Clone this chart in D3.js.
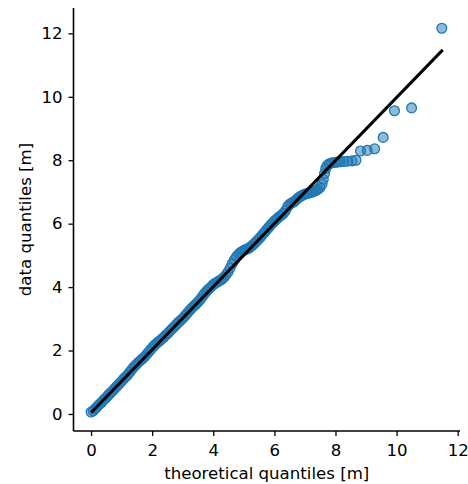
<!DOCTYPE html>
<html>
<head>
<meta charset="utf-8">
<script src="https://cdn.jsdelivr.net/npm/d3@7"></script>
<style>
  html, body { margin: 0; padding: 0; background: #fff; }
  svg { display: block; }
  text { font-family: "DejaVu Sans", sans-serif; }
</style>
</head>
<body>
<svg id="chart" width="468" height="484"></svg>
<script>
// theoretical quantiles [m]
const theoretical = [
  0.00, 0.07, 0.14, 0.21, 0.28, 0.35, 0.42, 0.49, 0.56, 0.63, 0.70, 0.77, 0.84, 0.91, 0.98, 1.05, 1.12, 1.19,
  1.26, 1.33, 1.40, 1.47, 1.54, 1.61, 1.68, 1.75, 1.82, 1.89, 1.96, 2.03, 2.10, 2.17, 2.24, 2.31, 2.38, 2.45,
  2.52, 2.59, 2.66, 2.73, 2.80, 2.87, 2.94, 3.01, 3.08, 3.15, 3.22, 3.29, 3.36, 3.43, 3.50, 3.57, 3.64, 3.71,
  3.78, 3.85, 3.92, 3.99, 4.06, 4.13, 4.20, 4.27, 4.34, 4.41, 4.48, 4.55, 4.62, 4.69, 4.76, 4.83, 4.90, 4.97,
  5.04, 5.11, 5.18, 5.25, 5.32, 5.39, 5.46, 5.53, 5.60, 5.67, 5.74, 5.81, 5.88, 5.95, 6.02, 6.09, 6.16, 6.23,
  6.30, 6.37, 6.44, 6.51, 6.58, 6.65, 6.72, 6.79, 6.86, 6.93, 7.00, 7.07, 7.14, 7.21, 7.28, 7.35, 7.42, 7.49,
  7.56, 7.60, 7.64, 7.68, 7.73, 7.80, 7.88, 7.97, 8.06, 8.16, 8.27, 8.40, 8.54, 8.67, 8.82, 9.04, 9.28, 9.56,
  9.93, 10.49, 11.48
];
// data quantiles [m]
const observed = [
  0.06, 0.10, 0.17, 0.24, 0.31, 0.37, 0.45, 0.51, 0.59, 0.66, 0.72, 0.80, 0.87, 0.94, 1.01, 1.09, 1.16, 1.22,
  1.31, 1.40, 1.48, 1.55, 1.62, 1.68, 1.74, 1.80, 1.88, 1.96, 2.04, 2.12, 2.19, 2.25, 2.30, 2.36, 2.42, 2.49,
  2.55, 2.62, 2.69, 2.76, 2.83, 2.90, 2.96, 3.02, 3.10, 3.18, 3.26, 3.33, 3.40, 3.46, 3.53, 3.61, 3.70, 3.79,
  3.87, 3.94, 4.00, 4.07, 4.12, 4.16, 4.20, 4.24, 4.30, 4.38, 4.47, 4.60, 4.74, 4.86, 4.96, 5.04, 5.10, 5.14,
  5.18, 5.20, 5.24, 5.29, 5.35, 5.42, 5.49, 5.56, 5.64, 5.72, 5.80, 5.88, 5.96, 6.03, 6.10, 6.16, 6.22, 6.27,
  6.33, 6.42, 6.55, 6.62, 6.66, 6.70, 6.76, 6.82, 6.86, 6.90, 6.93, 6.95, 6.97, 6.99, 7.01, 7.04, 7.08, 7.14,
  7.25, 7.40, 7.58, 7.74, 7.84, 7.89, 7.92, 7.93, 7.94, 7.95, 7.96, 7.97, 7.98, 8.00, 8.29, 8.31, 8.36, 8.72,
  9.56, 9.65, 12.16
];
// fitted reference line endpoints
const lineX = [0.00, 11.51];
const lineY = [0.04, 11.48];
const xTicks = [0, 2, 4, 6, 8, 10, 12];
const yTicks = [0, 2, 4, 6, 8, 10, 12];

const svg = d3.select("#chart");
const plotLeft = 73.5, plotRight = 460, plotTop = 8, plotBottom = 431;
const fontPx = "16.6px";

const x = d3.scaleLinear().domain([-0.575, 12.075]).range([plotLeft, plotRight]);
const y = d3.scaleLinear().domain([-0.537, 12.8]).range([plotBottom, plotTop]);

const pts = theoretical.map((t, i) => ({ t, o: observed[i] }));

svg.append("g")
  .selectAll("circle")
  .data(pts)
  .join("circle")
  .attr("cx", d => x(d.t))
  .attr("cy", d => y(d.o))
  .attr("r", 4.9)
  .attr("fill", "#1f77b4")
  .attr("fill-opacity", 0.5)
  .attr("stroke", "#1f77b4")
  .attr("stroke-opacity", 1)
  .attr("stroke-width", 1.3);

const lineData = lineX.map((v, i) => [v, lineY[i]]);
svg.append("path")
  .datum(lineData)
  .attr("d", d3.line().x(d => x(d[0])).y(d => y(d[1])))
  .attr("stroke", "#000")
  .attr("stroke-width", 3)
  .attr("fill", "none");

const xAxis = svg.append("g")
  .attr("transform", `translate(0,${plotBottom})`)
  .call(d3.axisBottom(x).tickValues(xTicks).tickSize(5).tickPadding(8).tickFormat(d3.format("d")));
const yAxis = svg.append("g")
  .attr("transform", `translate(${plotLeft},0)`)
  .call(d3.axisLeft(y).tickValues(yTicks).tickSize(5).tickPadding(6).tickFormat(d3.format("d")));

[xAxis, yAxis].forEach(g => {
  g.select(".domain").attr("stroke", "#000").attr("stroke-width", 1.6);
  g.selectAll(".tick line").attr("stroke", "#000").attr("stroke-width", 1.3);
  g.selectAll(".tick text").attr("fill", "#000")
    .style("font-family", "'DejaVu Sans', sans-serif").style("font-size", fontPx);
});
xAxis.select(".domain").attr("d", `M${plotLeft},0H${plotRight}`);
yAxis.select(".domain").attr("d", `M0,${plotTop}V${plotBottom}`);

svg.append("text")
  .attr("x", (plotLeft + plotRight) / 2)
  .attr("y", 479)
  .attr("text-anchor", "middle")
  .style("font-size", fontPx)
  .attr("fill", "#000")
  .text("theoretical quantiles [m]");

svg.append("text")
  .attr("transform", `translate(31,${(plotTop + plotBottom) / 2}) rotate(-90)`)
  .attr("text-anchor", "middle")
  .style("font-size", fontPx)
  .attr("fill", "#000")
  .text("data quantiles [m]");
</script>
</body>
</html>
